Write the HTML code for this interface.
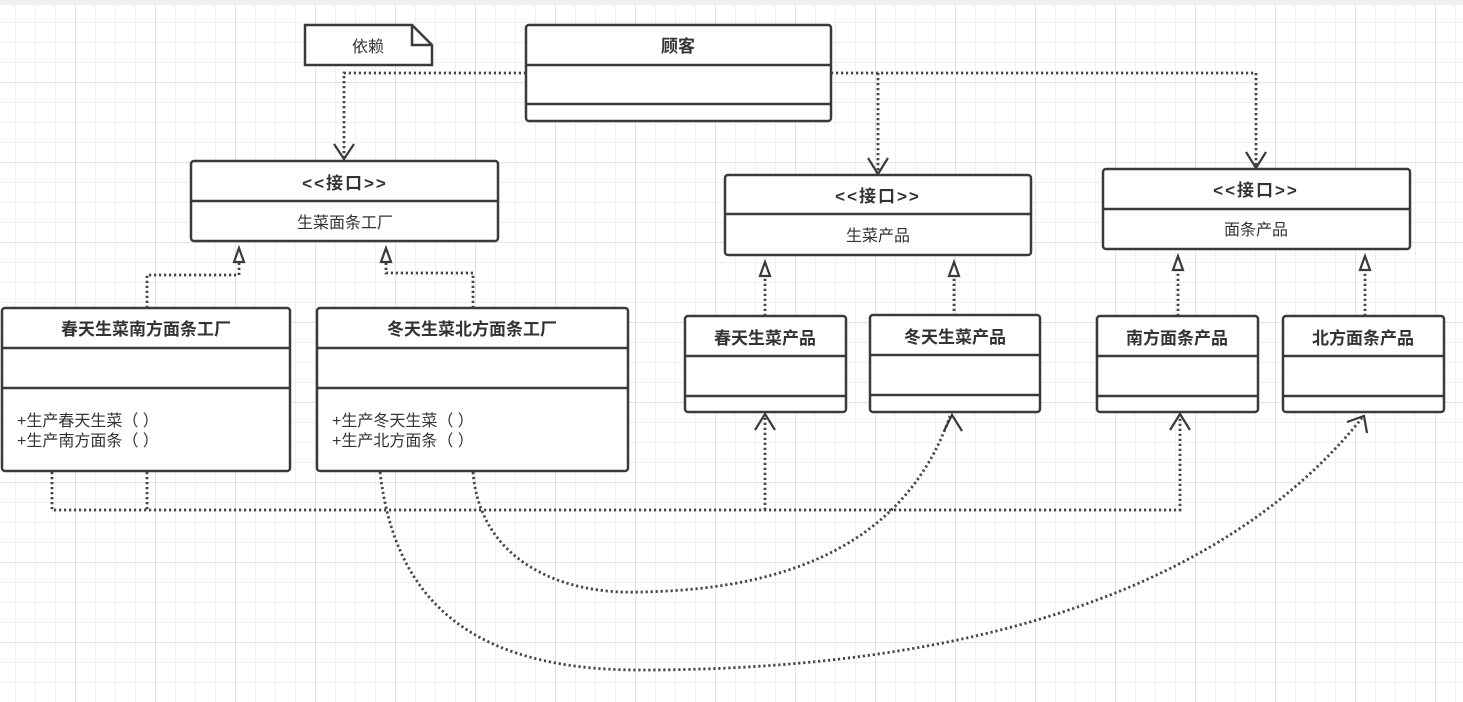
<!DOCTYPE html>
<html><head><meta charset="utf-8"><style>
html,body{margin:0;padding:0;background:#fff;}
svg{display:block;}
text{font-family:"Liberation Sans","Noto Sans CJK SC",sans-serif;fill:#333;}
.b{font-weight:bold;font-size:17px;}
.n{font-size:16px;}
.box{fill:#fff;stroke:#3a3a3a;stroke-width:2.5;}
.ln{stroke:#3a3a3a;stroke-width:2.5;}
.d{fill:none;stroke:#444;stroke-width:2.8;stroke-dasharray:2.2 2.8;}
.ah{fill:none;stroke:#3a3a3a;stroke-width:2.2;}
.tri{fill:#fff;stroke:#3a3a3a;stroke-width:2.2;}
</style></head><body>
<svg width="1463" height="702" viewBox="0 0 1463 702" xmlns="http://www.w3.org/2000/svg">
<defs>
<pattern id="minor" width="20" height="20" patternUnits="userSpaceOnUse" x="15" y="2">
<path d="M0 0.5H20M0.5 0V20" stroke="#f0f0f0" stroke-width="1" fill="none"/>
</pattern>
<pattern id="major" width="80" height="80" patternUnits="userSpaceOnUse" x="75" y="2">
<path d="M0 0.5H80M0.5 0V80" stroke="#e2e2e2" stroke-width="1" fill="none"/>
</pattern>
</defs>
<rect width="1463" height="702" fill="url(#minor)"/>
<rect width="1463" height="702" fill="url(#major)"/>
<rect x="0" y="0" width="1463" height="5" fill="#f0f0f0"/>

<path class="d" d="M526 73H344V158"/>
<path class="d" d="M831 73H1256V167"/>
<path class="d" d="M878 73V173"/>
<path class="ah" d="M334 144L344 159L354 144"/>
<path class="ah" d="M868 158L878 174L888 158"/>
<path class="ah" d="M1246 152L1256 168L1266 152"/>

<path class="d" d="M147 308V275H239V262"/>
<path class="d" d="M473 308V273H386V262"/>
<path class="d" d="M765 316V276"/>
<path class="d" d="M954 316V276"/>
<path class="d" d="M1178 316V270"/>
<path class="d" d="M1365 316V270"/>
<path class="tri" d="M234 262L239 248L244 262Z"/>
<path class="tri" d="M381 262L386 248L391 262Z"/>
<path class="tri" d="M760 276L765 262L770 276Z"/>
<path class="tri" d="M949 276L954 262L959 276Z"/>
<path class="tri" d="M1173 270L1178 256L1183 270Z"/>
<path class="tri" d="M1360 270L1365 256L1370 270Z"/>

<path class="d" d="M52 472V510H1180V414"/>
<path class="d" d="M147 472V510"/>
<path class="d" d="M765 510V414"/>
<path class="d" d="M473 472C480 560 560 595 640 592C760 590 900 560 950 416"/>
<path class="d" d="M380 472C395 600 470 670 640 670C900 670 1200 620 1362 418"/>
<path class="ah" d="M755 430L765 414L775 430"/>
<path class="ah" d="M944 431L952 415L962 431"/>
<path class="ah" d="M1170 430L1180 414L1190 430"/>
<path class="ah" d="M1347 422L1364 416L1367 433"/>

<path class="box" d="M305 25H412L432 45V65H305Z"/>
<path class="ln" fill="none" d="M412 25V45H432"/>
<text class="n" x="368" y="52" text-anchor="middle">依赖</text>

<rect class="box" x="526" y="25" width="305" height="96" rx="3"/>
<line class="ln" x1="526" y1="65" x2="831" y2="65"/>
<line class="ln" x1="526" y1="104" x2="831" y2="104"/>
<text class="b" x="678" y="52" text-anchor="middle">顾客</text>

<rect class="box" x="191" y="161" width="307" height="80" rx="3"/>
<line class="ln" x1="191" y1="201" x2="498" y2="201"/>
<text class="b" x="345" y="189" text-anchor="middle" letter-spacing="2">&lt;&lt;接口&gt;&gt;</text>
<text class="n" x="345" y="228" text-anchor="middle">生菜面条工厂</text>

<rect class="box" x="725" y="175" width="306" height="80" rx="3"/>
<line class="ln" x1="725" y1="214" x2="1031" y2="214"/>
<text class="b" x="878" y="202" text-anchor="middle" letter-spacing="2">&lt;&lt;接口&gt;&gt;</text>
<text class="n" x="878" y="241" text-anchor="middle">生菜产品</text>

<rect class="box" x="1103" y="169" width="307" height="80" rx="3"/>
<line class="ln" x1="1103" y1="209" x2="1410" y2="209"/>
<text class="b" x="1256" y="196" text-anchor="middle" letter-spacing="2">&lt;&lt;接口&gt;&gt;</text>
<text class="n" x="1256" y="235" text-anchor="middle">面条产品</text>

<rect class="box" x="2" y="308" width="288" height="163" rx="3"/>
<line class="ln" x1="2" y1="348" x2="290" y2="348"/>
<line class="ln" x1="2" y1="388" x2="290" y2="388"/>
<text class="b" x="146" y="335" text-anchor="middle">春天生菜南方面条工厂</text>
<text class="n" x="17" y="426">+生产春天生菜（ ）</text>
<text class="n" x="17" y="446">+生产南方面条（ ）</text>

<rect class="box" x="317" y="308" width="311" height="163" rx="3"/>
<line class="ln" x1="317" y1="348" x2="628" y2="348"/>
<line class="ln" x1="317" y1="388" x2="628" y2="388"/>
<text class="b" x="472" y="335" text-anchor="middle">冬天生菜北方面条工厂</text>
<text class="n" x="332" y="426">+生产冬天生菜（ ）</text>
<text class="n" x="332" y="446">+生产北方面条（ ）</text>

<rect class="box" x="685" y="316" width="161" height="96" rx="3"/>
<line class="ln" x1="685" y1="356" x2="846" y2="356"/>
<line class="ln" x1="685" y1="396" x2="846" y2="396"/>
<text class="b" x="765" y="344" text-anchor="middle">春天生菜产品</text>

<rect class="box" x="870" y="315" width="170" height="97" rx="3"/>
<line class="ln" x1="870" y1="355" x2="1040" y2="355"/>
<line class="ln" x1="870" y1="395" x2="1040" y2="395"/>
<text class="b" x="955" y="343" text-anchor="middle">冬天生菜产品</text>

<rect class="box" x="1097" y="316" width="161" height="96" rx="3"/>
<line class="ln" x1="1097" y1="356" x2="1258" y2="356"/>
<line class="ln" x1="1097" y1="396" x2="1258" y2="396"/>
<text class="b" x="1177" y="344" text-anchor="middle">南方面条产品</text>

<rect class="box" x="1283" y="316" width="161" height="96" rx="3"/>
<line class="ln" x1="1283" y1="356" x2="1444" y2="356"/>
<line class="ln" x1="1283" y1="396" x2="1444" y2="396"/>
<text class="b" x="1363" y="344" text-anchor="middle">北方面条产品</text>
</svg>
</body></html>
